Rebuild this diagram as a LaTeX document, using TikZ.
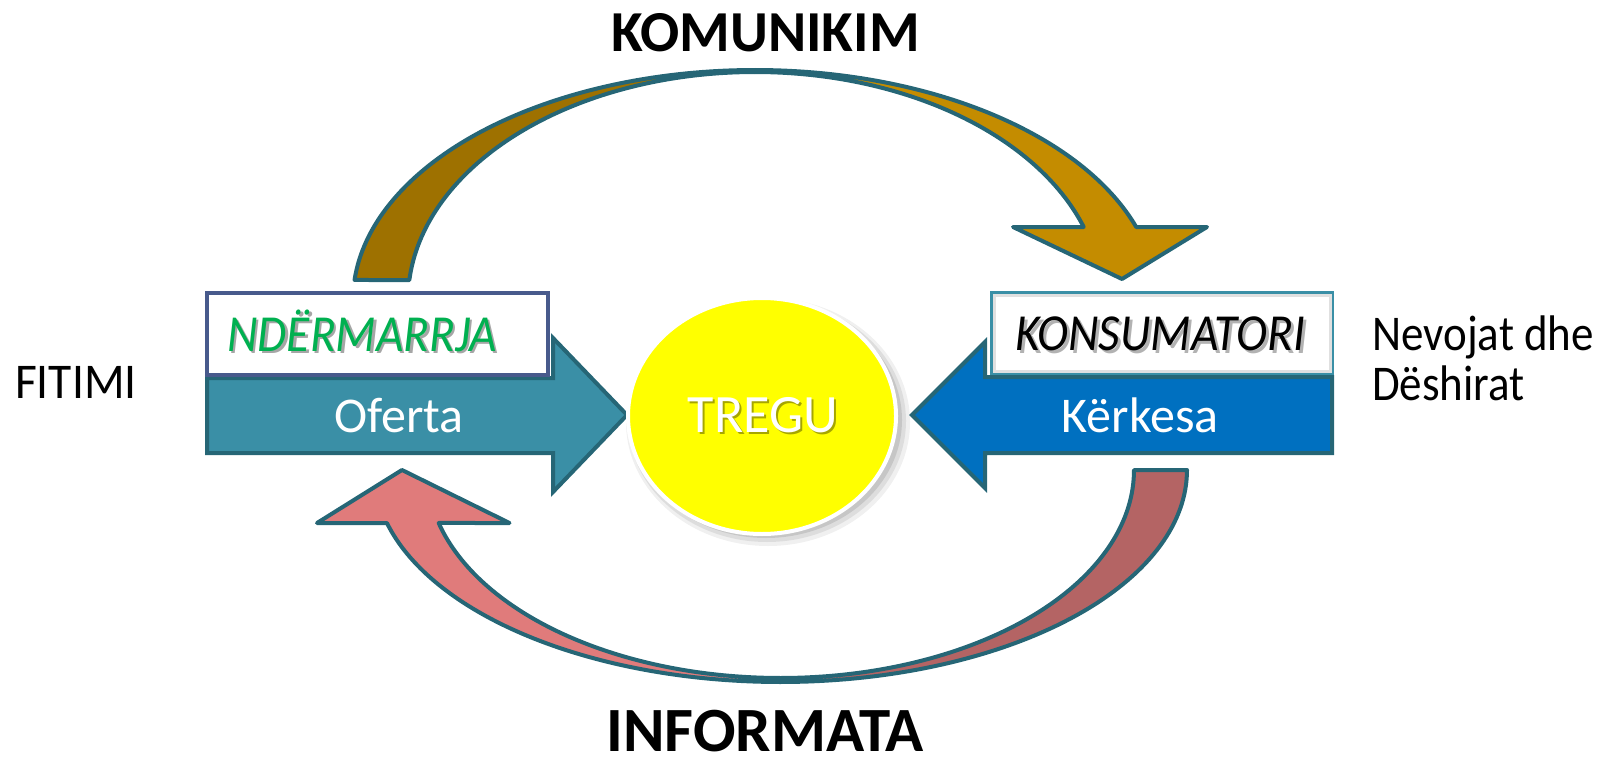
\documentclass[tikz,border=0pt]{standalone}
\usepackage{fontspec}
\setmainfont{Carlito}
\usetikzlibrary{shapes.geometric}
\definecolor{outl}{RGB}{38,102,118}
\definecolor{oferta}{RGB}{58,143,166}
\definecolor{kerkesa}{RGB}{0,112,192}
\definecolor{topdark}{RGB}{158,113,0}
\definecolor{toplight}{RGB}{196,140,0}
\definecolor{botlight}{RGB}{224,123,123}
\definecolor{botdark}{RGB}{180,100,100}
\definecolor{ndborder}{RGB}{72,90,140}
\definecolor{ndgreen}{RGB}{0,176,80}
\definecolor{tyellow}{RGB}{255,255,0}
\tikzset{
  band/.style={draw=outl, line width=4, line join=round},
  bigarrow/.style={draw=outl, line width=4, line join=miter},
  title/.style={anchor=base, inner sep=0, font=\fontsize{58}{60}\selectfont\bfseries},
  plain/.style={anchor=base, inner sep=0, font=\fontsize{50}{60}\selectfont},
  label/.style={anchor=base, inner sep=0, font=\fontsize{50}{60}\selectfont, text=white},
  boxlabel/.style={anchor=base, inner sep=0, xscale=0.91, font=\fontsize{52}{60}\selectfont\itshape},
  shadowtxt/.style={text=black, opacity=0.35},
  labelbox/.style={draw, line width=4, fill=white, minimum width=341, minimum height=82, inner sep=0},
}
\begin{document}
\begin{tikzpicture}[x=1pt,y=-1pt]
\useasboundingbox (0,0) rectangle (1614,757);

% ---------- top curved arrow (KOMUNIKIM) ----------
\filldraw[band, fill=topdark]
  plot[domain=185:270, samples=70] ({755+402*cos(\x)},{300+230*sin(\x)})
  -- plot[domain=270:185, samples=70] ({755+347*cos(\x)},{300+228*sin(\x)}) -- cycle;
\filldraw[band, fill=toplight]
  plot[domain=270:341.5, samples=70] ({755+402*cos(\x)},{300+230*sin(\x)})
  -- (1207,227) -- (1122,279) -- (1013,227)
  -- plot[domain=341.33:270, samples=70] ({755+347*cos(\x)},{300+228*sin(\x)}) -- cycle;

% ---------- bottom curved arrow (INFORMATA) ----------
\filldraw[band, fill=botlight]
  plot[domain=90:165.5, samples=70] ({780.5+406.5*cos(\x)},{470+212*sin(\x)})
  -- (317,523) -- (402,470) -- (509.5,523)
  -- plot[domain=165.24:90, samples=70] ({780.5+353.5*cos(\x)},{470+208*sin(\x)}) -- cycle;
\filldraw[band, fill=botdark]
  plot[domain=0:90, samples=70] ({780.5+406.5*cos(\x)},{470+212*sin(\x)})
  -- plot[domain=90:0, samples=70] ({780.5+353.5*cos(\x)},{470+208*sin(\x)}) -- cycle;

% ---------- Oferta arrow ----------
\filldraw[bigarrow, fill=oferta]
  (207,378) -- (553,378) -- (553,338) -- (627,415) -- (553,492) -- (553,453) -- (207,453) -- cycle;
% ---------- Kerkesa arrow ----------
\filldraw[bigarrow, fill=kerkesa]
  (1332,377) -- (985,377) -- (985,342) -- (912,415) -- (985,488) -- (985,453) -- (1332,453) -- cycle;

% ---------- label boxes ----------
\node[labelbox, draw=ndborder] (ndbox) at (377.5,334) {};
\node[labelbox, draw=oferta, minimum width=340, minimum height=80] (kobox) at (1162,333) {};
\draw[black!12, line width=3] ([shift={(4,4)}]kobox.north west) rectangle ([shift={(-4,-4)}]kobox.south east);

\node[boxlabel, shadowtxt] (ndshadow) at (364.5,353.5) {NDËRMARRJA};
\node[boxlabel, text=ndgreen] (ndtext) at (362,351) {NDËRMARRJA};
\node[boxlabel, shadowtxt, opacity=0.3] (koshadow) at (1163,353) {KONSUMATORI};
\node[boxlabel, text=black] (kotext) at (1160,350) {KONSUMATORI};

\node[label] (ofertatext) at (399,432) {Oferta};
\node[label] (kerkesatext) at (1140,432) {Kërkesa};

% ---------- TREGU ----------
\fill[black, opacity=0.06] (768,422) ellipse [x radius=142, y radius=124];
\fill[black, opacity=0.08] (767,421) ellipse [x radius=139, y radius=121];
\fill[black, opacity=0.10] (766,420) ellipse [x radius=136, y radius=118];
\node[ellipse, draw=white, line width=4, fill=tyellow, minimum width=268, minimum height=236, inner sep=0] (tregu) at (762,416) {};
\node[label, text=black, opacity=0.35, font=\fontsize{54}{60}\selectfont] (tregushadow) at (765,434.5) {TREGU};
\node[label, font=\fontsize{54}{60}\selectfont] (tregutext) at (763,432) {TREGU};

% ---------- outer texts ----------
\node[title] (komunikim) at (765.5,52) {KOMUNIKIM};
\node[title, font=\fontsize{63}{66}\selectfont\bfseries] (informata) at (765,751) {INFORMATA};
\node[plain, anchor=base west, xscale=0.95] (fitimi) at (15,398) {FITIMI};
\node[plain, anchor=base west, xscale=0.9] (nevojat) at (1372,350) {Nevojat dhe};
\node[plain, anchor=base west, xscale=0.9] (deshirat) at (1372,400) {Dëshirat};
\end{tikzpicture}
\end{document}
